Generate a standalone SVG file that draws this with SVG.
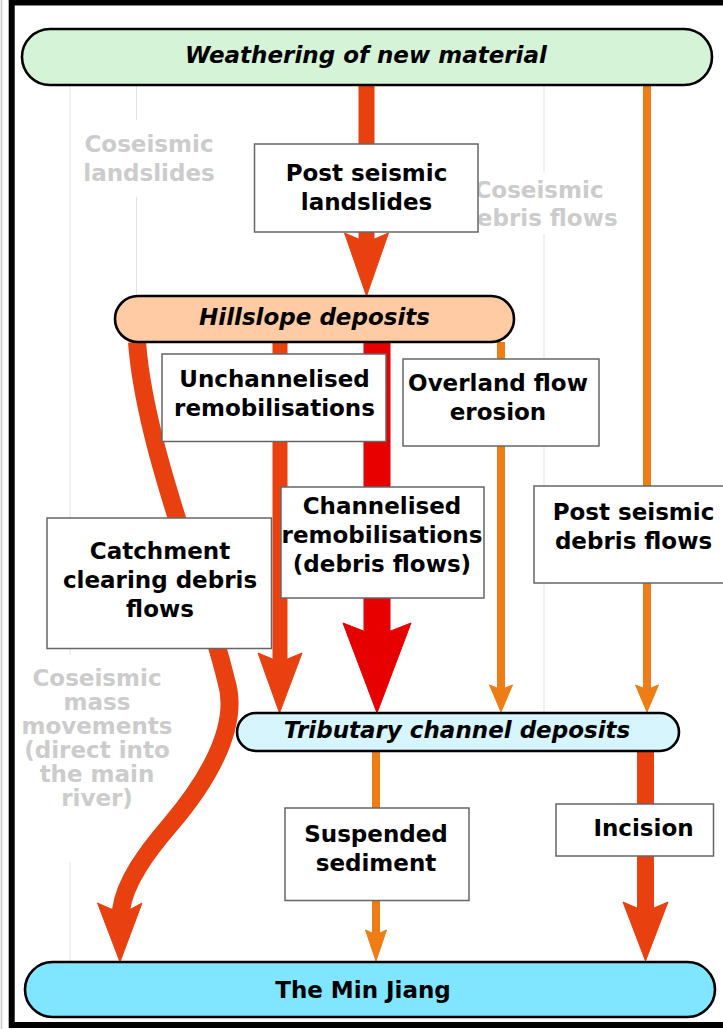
<svg xmlns="http://www.w3.org/2000/svg" width="723" height="1029" viewBox="0 0 723 1029">
  <style>
    .t { font-family: "DejaVu Sans", Verdana, sans-serif; font-weight: bold; font-size: 23px; text-anchor: middle; fill: #000; }
    .ti { font-style: italic; }
    .ghost { fill: #cccccc; }
    .guide { stroke: #e3e3e3; stroke-width: 1; fill: none; }
    .node { stroke: #000; stroke-width: 2.6; }
    .box { fill: #fff; stroke: #666; stroke-width: 1.5; }
    .shaft { fill: none; stroke-linecap: butt; }
    .orred { stroke: #e8410f; }
    .red { stroke: #e60000; }
    .orng { stroke: #ef7d16; }
    .hd-orred { fill: #e8410f; stroke: #e8410f; stroke-width: 1; stroke-linejoin: round; }
    .hd-red { fill: #e60000; stroke: #e60000; stroke-width: 1; stroke-linejoin: round; }
    .hd-orng { fill: #ef7d16; stroke: #ef7d16; stroke-width: 1; stroke-linejoin: round; }
  </style>

  <rect width="723" height="1029" fill="#fff"/>
  <!-- outer frame -->
  <line x1="1.5" y1="0" x2="1.5" y2="1029" stroke="#c8c8c8" stroke-width="1.5"/>
  <rect x="11.7" y="2.5" width="800" height="1022.5" fill="none" stroke="#000" stroke-width="6"/>

  <!-- faint guide lines -->
  <g id="guides">
    <line class="guide" x1="70" y1="86" x2="70" y2="655"/>
    <line class="guide" x1="70" y1="862" x2="70" y2="961"/>
    <line class="guide" x1="136.5" y1="86" x2="136.5" y2="120"/>
    <line class="guide" x1="136.5" y1="197" x2="136.5" y2="295"/>
    <line class="guide" x1="544" y1="86" x2="544" y2="172"/>
    <line class="guide" x1="544" y1="234" x2="544" y2="712"/>
  </g>

  <!-- greyed-out coseismic pathways -->
  <g id="coseismic-labels">
    <text class="t ghost" x="149" y="152">Coseismic</text>
    <text class="t ghost" x="149" y="181">landslides</text>
    <text class="t ghost" x="539" y="198">Coseismic</text>
    <text class="t ghost" x="539" y="226">debris flows</text>
    <text class="t ghost" x="97" y="686">Coseismic</text>
    <text class="t ghost" x="97" y="710">mass</text>
    <text class="t ghost" x="97" y="734">movements</text>
    <text class="t ghost" x="97" y="758">(direct into</text>
    <text class="t ghost" x="97" y="782">the main</text>
    <text class="t ghost" x="97" y="806">river)</text>
  </g>

  <!-- connectors -->
  <g id="connectors">
    <!-- weathering -> hillslope (post seismic landslides) -->
    <line class="shaft orred" x1="366.5" y1="86" x2="366.5" y2="241" stroke-width="16"/>
    <path class="hd-orred" d="M358.5,239 L344.5,233 L366.5,296 L388.5,233 L374.5,239 Z"/>

    <!-- weathering -> tributary (post seismic debris flows) -->
    <line class="shaft orng" x1="647" y1="86" x2="647" y2="690" stroke-width="8"/>
    <path class="hd-orng" d="M643,688 L635.5,685 L647,712 L658.5,685 L651,688 Z"/>

    <!-- hillslope -> min jiang (catchment clearing debris flows) -->
    <path class="shaft orred" stroke-width="18" d="M137,342 C145,450 205,590 226,680 C242,730 200,790 170,825 C146,853 125,882 121,910"/>
    <path class="hd-orred" d="M111,909 L97.5,903 L120,962 L142,903 L131,909 Z"/>

    <!-- hillslope -> tributary (unchannelised remobilisations) -->
    <line class="shaft orred" x1="280" y1="342" x2="280" y2="660" stroke-width="15"/>
    <path class="hd-orred" d="M272.5,659 L258,653 L279.5,713 L302,653 L287.5,659 Z"/>

    <!-- hillslope -> tributary (channelised remobilisations) -->
    <line class="shaft red" x1="377" y1="342" x2="377" y2="632" stroke-width="27"/>
    <path class="hd-red" d="M363.5,631 L343,623 L377,713 L411,623 L390.5,631 Z"/>

    <!-- hillslope -> tributary (overland flow erosion) -->
    <line class="shaft orng" x1="501" y1="342" x2="501" y2="690" stroke-width="8"/>
    <path class="hd-orng" d="M497,688 L489.5,685 L501,712 L512.5,685 L505,688 Z"/>

    <!-- tributary -> min jiang (suspended sediment) -->
    <line class="shaft orng" x1="376" y1="751" x2="376" y2="935" stroke-width="8"/>
    <path class="hd-orng" d="M372,933 L365.5,930 L376,961 L386.5,930 L380,933 Z"/>

    <!-- tributary -> min jiang (incision) -->
    <line class="shaft orred" x1="645.5" y1="751" x2="645.5" y2="909" stroke-width="17"/>
    <path class="hd-orred" d="M637,908 L623,902 L645.5,961 L668,902 L654,908 Z"/>
  </g>

  <!-- sediment stores -->
  <g id="weathering">
    <rect class="node" x="22" y="29" width="690" height="56" rx="28" fill="#d5f3d6"/>
    <text class="t ti" x="366" y="63">Weathering of new material</text>
  </g>
  <g id="hillslope-deposits">
    <rect class="node" x="115" y="296" width="399" height="46" rx="23" fill="#ffcba5"/>
    <text class="t ti" x="314.5" y="325">Hillslope deposits</text>
  </g>
  <g id="tributary-deposits">
    <rect class="node" x="237" y="713" width="442" height="38" rx="19" fill="#d6f5fc"/>
    <text class="t ti" x="457" y="738">Tributary channel deposits</text>
  </g>
  <g id="min-jiang">
    <rect class="node" x="25" y="962" width="690" height="55" rx="27.5" fill="#80e5fe"/>
    <text class="t" x="363" y="998">The Min Jiang</text>
  </g>

  <!-- transfer processes -->
  <g id="post-seismic-landslides">
    <rect class="box" x="254.5" y="144" width="223.5" height="88"/>
    <text class="t" x="366.5" y="181">Post seismic</text>
    <text class="t" x="366.5" y="210">landslides</text>
  </g>
  <g id="unchannelised">
    <rect class="box" x="162" y="354" width="224" height="87.5"/>
    <text class="t" x="274.5" y="387">Unchannelised</text>
    <text class="t" x="274.5" y="416">remobilisations</text>
  </g>
  <g id="overland-flow">
    <rect class="box" x="403" y="359" width="196" height="87"/>
    <text class="t" x="498" y="391">Overland flow</text>
    <text class="t" x="498" y="420">erosion</text>
  </g>
  <g id="channelised">
    <rect class="box" x="281" y="487" width="203" height="111"/>
    <text class="t" x="382" y="514">Channelised</text>
    <text class="t" x="382" y="543">remobilisations</text>
    <text class="t" x="382" y="572">(debris flows)</text>
  </g>
  <g id="post-seismic-debris-flows">
    <rect class="box" x="534" y="486" width="190" height="97"/>
    <text class="t" x="633.5" y="520">Post seismic</text>
    <text class="t" x="633.5" y="549">debris flows</text>
  </g>
  <g id="catchment-clearing">
    <rect class="box" x="47" y="518" width="224.5" height="130.5"/>
    <text class="t" x="160" y="559">Catchment</text>
    <text class="t" x="160" y="588">clearing debris</text>
    <text class="t" x="160" y="617">flows</text>
  </g>
  <g id="suspended-sediment">
    <rect class="box" x="285" y="808" width="184" height="92.5"/>
    <text class="t" x="376" y="842">Suspended</text>
    <text class="t" x="376" y="871">sediment</text>
  </g>
  <g id="incision">
    <rect class="box" x="556" y="804" width="157.5" height="52"/>
    <text class="t" x="643.5" y="836">Incision</text>
  </g>
</svg>
